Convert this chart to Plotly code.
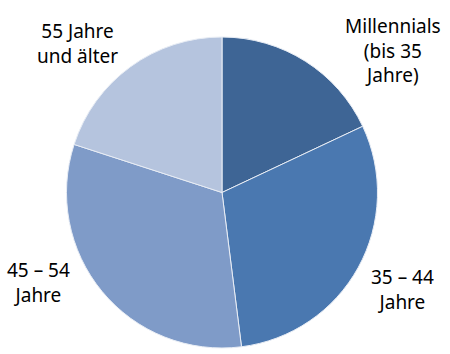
import plotly.graph_objects as go

W, H = 450, 354

categories = ["Millennials (bis 35 Jahre)", "35 – 44 Jahre", "45 – 54 Jahre", "55 Jahre und älter"]
values = [18, 30, 32, 20]
colors = ["#3e6595", "#4a78b0", "#7f9bc8", "#b5c4de"]
label_texts = ["Millennials<br>(bis 35<br>Jahre)", "35 – 44<br>Jahre", "45 – 54<br>Jahre", "55 Jahre<br>und älter"]

fig = go.Figure(go.Pie(
    labels=categories,
    values=values,
    sort=False,
    direction="clockwise",
    rotation=0,
    textinfo="none",
    hoverinfo="label+percent",
    marker=dict(colors=colors, line=dict(color="#e8edf5", width=1)),
    domain=dict(x=[66/W, 378/W], y=[(H-348)/H, (H-37)/H]),
    showlegend=False,
))

# label positions (pixel centres)
pos = [(393, 50), (402, 289), (38, 282), (77, 43)]
for t, (px, py) in zip(label_texts, pos):
    fig.add_annotation(x=px/W, y=1-py/H, xref="paper", yref="paper",
                       text=t, showarrow=False, xanchor="center", yanchor="middle",
                       font=dict(family="Noto Sans", size=19, color="#000000"))

fig.update_layout(width=W, height=H, margin=dict(l=0, r=0, t=0, b=0),
                  paper_bgcolor="white", plot_bgcolor="white")
fig.write_html("out.html")
